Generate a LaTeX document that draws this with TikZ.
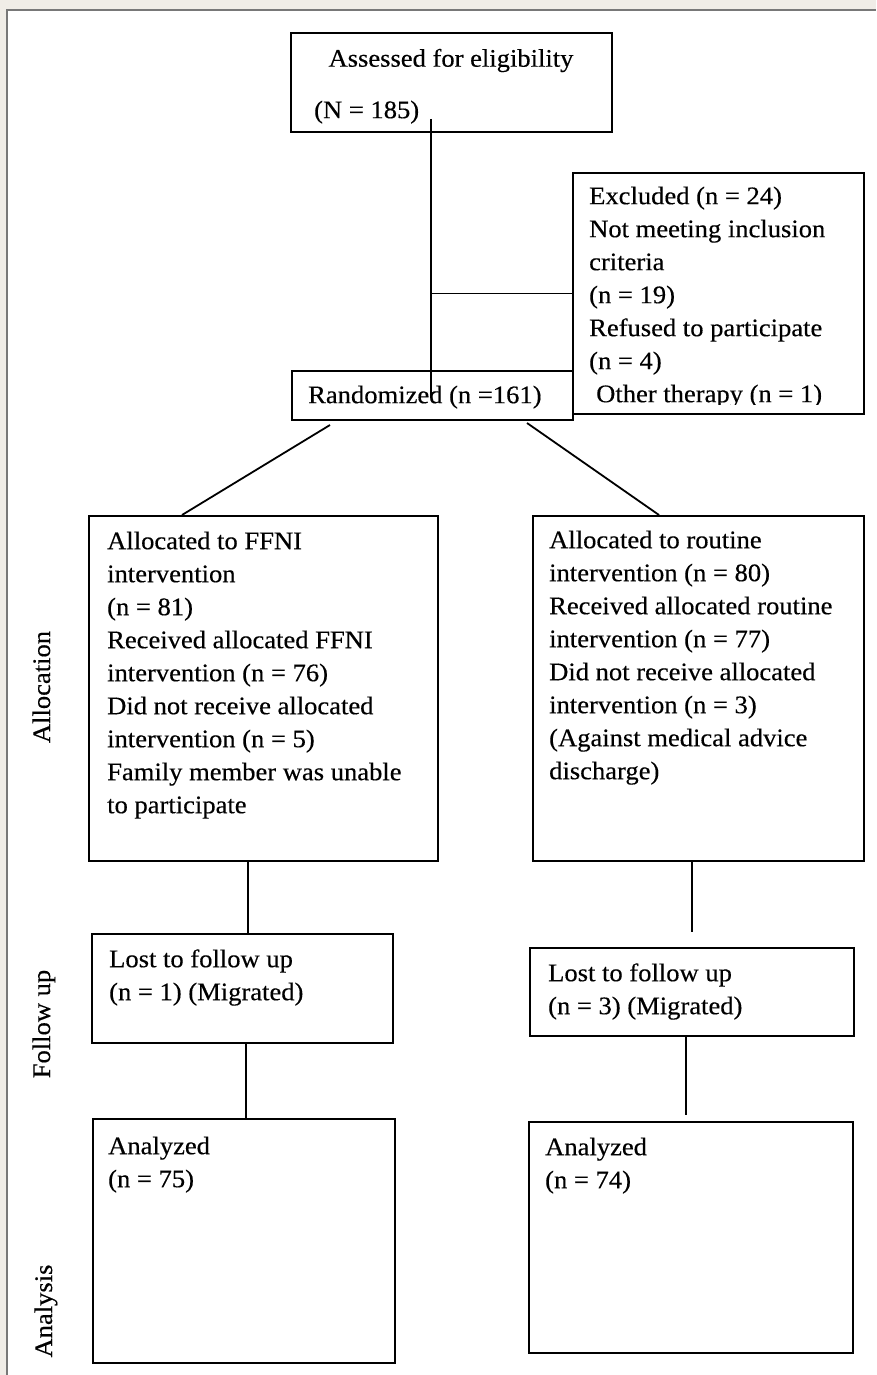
\documentclass[tikz,border=0pt]{standalone}
\usepackage{fontspec}
\setmainfont{Liberation Serif}[FakeStretch=1.05,FakeBold=0.35]
\usetikzlibrary{calc}
\newcommand\fsz{\fontsize{25.3}{33}\selectfont}
\definecolor{bgc}{RGB}{240,237,231}
\definecolor{framec}{RGB}{120,120,120}
\begin{document}
\begin{tikzpicture}[x=1pt,y=-1pt,
  box/.style={draw, line width=2pt, inner sep=0pt, anchor=north west},
  txt/.style={anchor=north west, inner sep=0pt, align=left, font=\fsz},
  conn/.style={line width=1.8pt},
  side/.style={rotate=90, anchor=base, inner sep=0pt, font=\fsz}]
\useasboundingbox (0,0) rectangle (876,1375);
\fill[bgc] (0,0) rectangle (876,1375);
\fill[white] (7,10) rectangle (876,1375);
\draw[framec, line width=1.5pt] (7,1375) -- (7,10) -- (876,10);

% boxes
\node[box, minimum width=321pt, minimum height=99pt] (assess) at (290,32) {};
\node[box, minimum width=291pt, minimum height=241pt] (excl) at (572,172) {};
\node[box, minimum width=281pt, minimum height=49pt] (rand) at (291,370) {};
\node[box, minimum width=349pt, minimum height=345pt] (lalloc) at (88,515) {};
\node[box, minimum width=331pt, minimum height=345pt] (ralloc) at (532,515) {};
\node[box, minimum width=301pt, minimum height=109pt] (lfollow) at (91,933) {};
\node[box, minimum width=324pt, minimum height=88pt] (rfollow) at (529,947) {};
\node[box, minimum width=302pt, minimum height=244pt] (lanal) at (92,1118) {};
\node[box, minimum width=324pt, minimum height=231pt] (ranal) at (528,1121) {};

% texts
\node[anchor=base, inner sep=0pt, font=\fsz] (t-assess1) at (451,66.7) {Assessed for eligibility};
\node[txt] (t-assess2) at (314,94.9) {\strut(N = 185)};
\node[txt] (t-rand) at (308,379.9) {\strut Randomized (n =161)};
\begin{scope}
\clip (572,172) rectangle (863,404.5);
\node[txt] (t-excl) at (589,180.9) {\strut Excluded (n = 24)\\Not meeting inclusion\\criteria\\(n = 19)\\Refused to participate\\(n = 4)\\\hspace*{7pt}Other therapy (n = 1)};
\end{scope}
\node[txt] (t-lalloc) at (107,525.9) {\strut Allocated to FFNI\\intervention\\(n = 81)\\Received allocated FFNI\\intervention (n = 76)\\Did not receive allocated\\intervention (n = 5)\\Family member was unable\\to participate};
\node[txt] (t-ralloc) at (549,524.9) {\strut Allocated to routine\\intervention (n = 80)\\Received allocated routine\\intervention (n = 77)\\Did not receive allocated\\intervention (n = 3)\\(Against medical advice\\discharge)};
\node[txt] (t-lfollow) at (109,943.9) {\strut Lost to follow up\\(n = 1) (Migrated)};
\node[txt] (t-rfollow) at (548,957.9) {\strut Lost to follow up\\(n = 3) (Migrated)};
\node[txt] (t-lanal) at (108,1130.9) {\strut Analyzed\\(n = 75)};
\node[txt] (t-ranal) at (545,1131.9) {\strut Analyzed\\(n = 74)};

% side labels
\node[side] (s-alloc) at (50,687) {Allocation};
\node[side] (s-follow) at (50,1024) {Follow up};
\node[side] (s-anal) at (52,1311) {Analysis};

% connectors
\coordinate (v1) at (431,119);
\coordinate (v2) at (431,398);
\draw[conn] (v1) -- (v2);
\draw[conn] (excl.west -| v1) -- (excl.west);
\coordinate (d1s) at (330,425);
\coordinate (d1e) at (182,515);
\draw[conn] (d1s) -- (d1e);
\coordinate (d2s) at (527,423);
\coordinate (d2e) at (659,515);
\draw[conn] (d2s) -- (d2e);
\coordinate (c1) at (248,0);
\draw[conn] (lalloc.south -| c1) -- (lfollow.north -| c1);
\coordinate (r1e) at (692,932);
\draw[conn] (ralloc.south -| r1e) -- (r1e);
\coordinate (c2) at (246,0);
\draw[conn] (lfollow.south -| c2) -- (lanal.north -| c2);
\coordinate (r2e) at (686,1115);
\draw[conn] (rfollow.south -| r2e) -- (r2e);
\end{tikzpicture}
\end{document}
